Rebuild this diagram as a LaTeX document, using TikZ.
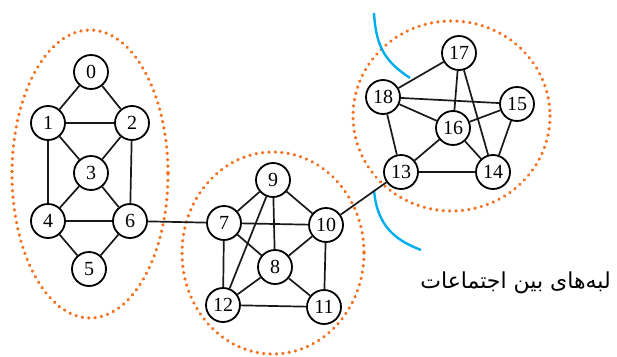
\documentclass[tikz,border=0pt]{standalone}
\usepackage{fontspec}
\setmainfont{Liberation Serif}
\newfontfamily\arabicfont[Script=Arabic]{DejaVu Sans}
\TeXXeTstate=1
\definecolor{grporange}{RGB}{245,112,30}
\definecolor{cutblue}{RGB}{0,174,239}
\begin{document}
\begin{tikzpicture}[x=1pt,y=-1pt,
  vtx/.style={circle,draw=black,line width=1.8pt,fill=white,minimum size=34pt,inner sep=0pt,font=\fontsize{20}{20}\selectfont},
  edge/.style={line width=1.7pt,black!90},
  grp/.style={draw=grporange,line width=3.6pt,line cap=round,dash pattern=on 0.01pt off 6.4pt},
  cut/.style={draw=cutblue,line width=2.4pt}]
\useasboundingbox (0,0) rectangle (617,356);
% community outlines
\draw[grp] (90,174) ellipse [x radius=78,y radius=144];
\draw[grp] (273,253) ellipse [x radius=91,y radius=101];
\draw[grp] (451.5,116) ellipse [x radius=98.5,y radius=95];
% cut curves
\draw[cut] (374,13) .. controls (376,48) and (386,62) .. (410,78);
\draw[cut] (374,190) .. controls (377,226) and (395,240) .. (421,250);
% nodes
\node[vtx] (n0) at (91,72) {0};
\node[vtx] (n1) at (48,123) {1};
\node[vtx] (n2) at (132,123) {2};
\node[vtx] (n3) at (91,173) {3};
\node[vtx] (n4) at (48,221) {4};
\node[vtx] (n5) at (89,269) {5};
\node[vtx] (n6) at (130,221) {6};
\node[vtx] (n9) at (273,180) {9};
\node[vtx] (n7) at (224,223) {7};
\node[vtx] (n10) at (326,225) {10};
\node[vtx] (n8) at (275,267) {8};
\node[vtx] (n12) at (223,305) {12};
\node[vtx] (n11) at (324,307) {11};
\node[vtx] (n17) at (459,53) {17};
\node[vtx] (n18) at (383,97) {18};
\node[vtx] (n15) at (517,104) {15};
\node[vtx] (n16) at (453,128) {16};
\node[vtx] (n13) at (401,172) {13};
\node[vtx] (n14) at (493,172) {14};
% edges
\foreach \a/\b in {n0/n1,n0/n2,n1/n2,n1/n3,n2/n3,n1/n4,n2/n6,n3/n4,n3/n6,n4/n6,n4/n5,n5/n6,n6/n7,
  n9/n7,n9/n10,n9/n8,n9/n12,n7/n10,n7/n8,n7/n12,n10/n8,n10/n11,n8/n12,n8/n11,n12/n11,n10/n13,
  n17/n18,n17/n16,n17/n14,n18/n15,n18/n16,n18/n13,n16/n15,n16/n13,n16/n14,n15/n14,n13/n14}
  \draw[edge] (\a) -- (\b);
% label
\node[anchor=east,inner sep=0pt] (lbl) at (611,283) {\arabicfont\fontsize{22}{22}\selectfont\beginR لبه‌های بین اجتماعات\endR};
\end{tikzpicture}
\end{document}
